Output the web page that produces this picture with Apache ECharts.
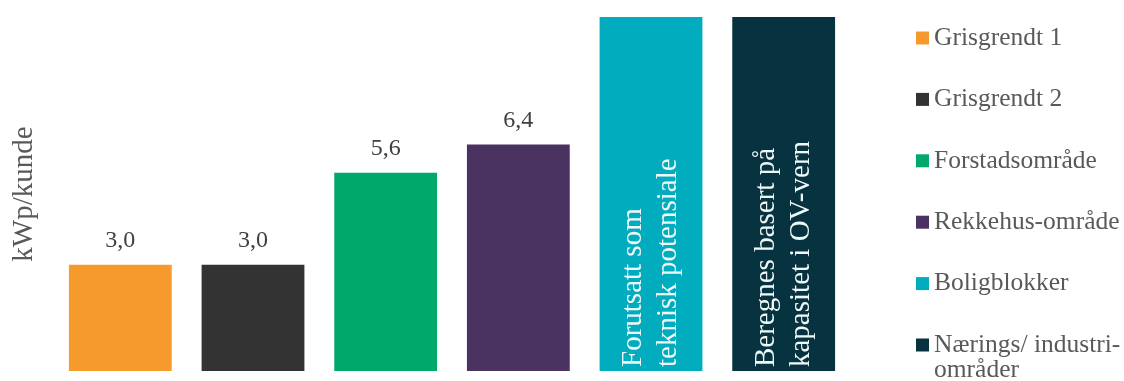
<!DOCTYPE html>
<html>
<head>
<meta charset="utf-8">
<script src="https://cdn.jsdelivr.net/npm/echarts@6/dist/echarts.min.js"></script>
<style>html,body{margin:0;padding:0;background:#fff}#c{width:1124px;height:381px}</style>
</head>
<body>
<div id="c"></div>
<script>
const categories = ['Grisgrendt 1','Grisgrendt 2','Forstadsområde','Rekkehus-område','Boligblokker','Nærings/ industri-\nområder'];
const values = [3.0, 3.0, 5.6, 6.4, 10, 10];
const notes = ['', '', '', '', 'Forutsatt som\nteknisk potensiale', 'Beregnes basert på\nkapasitet i OV-vern'];
const colors = ['#F79A2E','#333333','#00A86B','#4A3361','#00ACBD','#073240'];
const yAxisName = 'kWp/kunde';

const FONT = 'Liberation Serif';
const series = categories.map((name, i) => {
  const data = categories.map((_, j) => j === i ? values[i] : '-');
  const isNote = notes[i] !== '';
  return {
    name: name,
    type: 'bar',
    data: data,
    barWidth: '77.5%',
    barGap: '-100%',
    itemStyle: { color: colors[i] },
    label: isNote ? {
      show: true,
      position: 'insideBottom',
      rotate: 90,
      align: 'left',
      verticalAlign: 'middle',
      distance: 4,
      formatter: () => notes[i],
      color: '#eef8f8',
      fontFamily: FONT,
      fontSize: 29,
      lineHeight: 35
    } : {
      show: true,
      position: 'top',
      distance: 12,
      formatter: p => p.value.toFixed(1).replace('.', ','),
      color: '#404040',
      fontFamily: FONT,
      fontSize: 24
    }
  };
});

const LH = 25;
const legends = categories.map((name, i) => {
  const multi = name.indexOf('\n') >= 0;
  const centerY = 37.5 + i * 61.4;
  return {
    orient: 'vertical',
    left: 916,
    top: multi ? centerY - LH * 1.5 : centerY - LH / 2,
    padding: 0,
    itemWidth: 13,
    itemHeight: 13,
    itemGap: 5,
    icon: 'rect',
    formatter: n => n.indexOf('\n') >= 0 ? ' \n' + n : n,
    textStyle: { color: '#595959', fontFamily: FONT, fontSize: 25.5, lineHeight: LH },
    data: [name]
  };
});

const chart = echarts.init(document.getElementById('c'));
chart.setOption({
  animation: false,
  grid: { left: 54, right: 274, top: 17, bottom: 10 },
  xAxis: { type: 'category', data: categories, show: false },
  yAxis: { type: 'value', min: 0, max: 10, show: false },
  legend: legends,
  graphic: [{
    type: 'text',
    x: 24,
    y: 194,
    rotation: Math.PI / 2,
    style: { text: yAxisName, fill: '#595959', font: '29px "Liberation Serif"', align: 'center', verticalAlign: 'middle' }
  }],
  series: series
});
</script>
</body>
</html>
